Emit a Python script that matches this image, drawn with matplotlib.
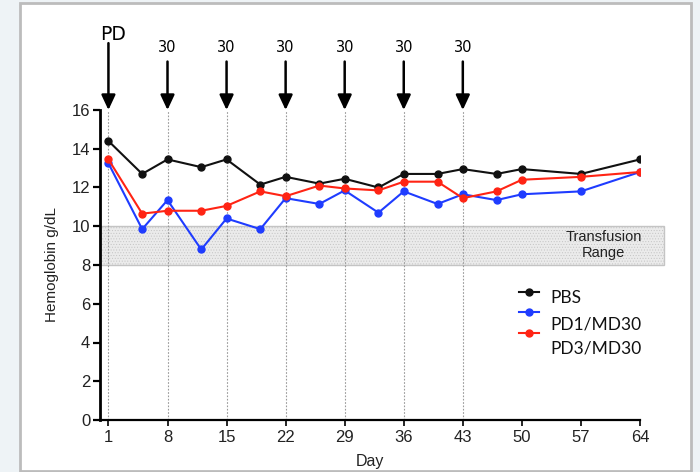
import matplotlib
matplotlib.use("Agg")
import matplotlib.pyplot as plt
from matplotlib.patches import Rectangle
from matplotlib.lines import Line2D

# Sampling days and hemoglobin readings (g/dL)
days = [1, 5, 8, 12, 15, 19, 22, 26, 29, 33, 36, 40, 43, 47, 50, 57, 64]
pbs = [14.4, 12.7, 13.45, 13.05, 13.45, 12.15, 12.55, 12.2, 12.45, 12.0,
       12.7, 12.7, 12.95, 12.7, 12.95, 12.7, 13.45]
pd1_md30 = [13.25, 9.85, 11.35, 8.8, 10.4, 9.85, 11.45, 11.15, 11.85, 10.7,
            11.8, 11.15, 11.65, 11.35, 11.65, 11.8, 12.8]
pd3_md30 = [13.45, 10.65, 10.8, 10.8, 11.05, 11.8, 11.55, 12.1, 11.95, 11.85,
            12.3, 12.3, 11.45, 11.8, 12.4, 12.55, 12.8]

series_names = ["PBS", "PD1/MD30", "PD3/MD30"]
series_colors = ["#111111", "#1f3cff", "#ff2414"]

# Dosing schedule
dose_days = [1, 8, 15, 22, 29, 36, 43]
dose_labels = ["PD", "30", "30", "30", "30", "30", "30"]

x_ticks = [1, 8, 15, 22, 29, 36, 43, 50, 57, 64]
y_ticks = [0, 2, 4, 6, 8, 10, 12, 14, 16]
transfusion_low, transfusion_high = 8, 10

W, H = 700, 472
fig = plt.figure(figsize=(W / 100, H / 100), dpi=100, facecolor="#eef3f6")

# white panel with grey border
panel = Rectangle((20 / W, 1 - 471 / H), 671 / W, 468 / H, transform=fig.transFigure,
                  facecolor="white", edgecolor="#bcbcbc", linewidth=2, zorder=-5)
fig.patches.append(panel)

ax = fig.add_axes([100 / W, 1 - 420 / H, 540 / W, 310 / H])
ax.set_facecolor("none")
ax.set_xlim(0, 64)
ax.set_ylim(0, 16)

tick_font = {"family": "Liberation Sans", "size": 12}

# transfusion band
band = Rectangle((0, transfusion_low), 66.8, transfusion_high - transfusion_low,
                 facecolor="#ebebeb", edgecolor="#c4c4c4", hatch="......",
                 linewidth=1.0, clip_on=False, zorder=1)
band.set_hatch_linewidth(0.4)
ax.add_patch(band)
ax.text(59.7, 9.45, "Transfusion", ha="center", va="center",
        fontfamily="Liberation Sans", fontsize=10.5, color="#222222", zorder=2)
ax.text(59.7, 8.6, "Range", ha="center", va="center",
        fontfamily="Liberation Sans", fontsize=10.5, color="#222222", zorder=2)

# dosing markers
for d, lab in zip(dose_days, dose_labels):
    ax.axvline(d, ymin=0, ymax=1, color="#9a9a9a", linestyle=(0, (1.5, 1.5)),
               linewidth=0.8, zorder=1)
    if lab == "PD":
        y_start, y_text, fs = 19.45, 19.9, 13.5
    else:
        y_start, y_text, fs = 18.5, 19.2, 10.5
    ax.annotate("", xy=(d, 16), xytext=(d, y_start), annotation_clip=False,
                arrowprops=dict(arrowstyle="-|>,head_length=0.9,head_width=0.42",
                                mutation_scale=10, lw=1.8, color="black",
                                shrinkA=0, shrinkB=0))
    ax.text(d + (0.5 if lab == "PD" else 0), y_text, lab, ha="center", va="center",
            fontfamily="DejaVu Sans", fontsize=fs, color="black", clip_on=False)

# data series
for vals, col in zip([pbs, pd1_md30, pd3_md30], series_colors):
    ax.plot(days, vals, color=col, linewidth=1.5, marker="o", markersize=5,
            zorder=3)

ax.spines["top"].set_visible(False)
ax.spines["right"].set_visible(False)
ax.spines["left"].set_linewidth(2)
ax.spines["bottom"].set_linewidth(1.6)
ax.set_xticks(x_ticks)
ax.set_yticks(y_ticks)
ax.set_xticklabels([str(v) for v in x_ticks], fontdict=tick_font, color="#222222")
ax.set_yticklabels([str(v) for v in y_ticks], fontdict=tick_font, color="#222222")
ax.tick_params(axis="y", direction="out", length=5, width=1.6, pad=2)
ax.tick_params(axis="x", direction="out", length=4, width=1.2, pad=3)

ax.set_xlabel("Day", fontfamily="Liberation Sans", fontsize=11.5, color="#222222",
              labelpad=7)
ax.set_ylabel("Hemoglobin g/dL", fontfamily="Liberation Sans", fontsize=11,
              color="#222222", labelpad=9)

# legend drawn by hand: markers and labels sit on slightly different rows
marker_rows = [292, 312, 333]
text_rows = [298, 324, 349]
for name, col, my, ty in zip(series_names, series_colors, marker_rows, text_rows):
    fig.add_artist(Line2D([519 / W, 539 / W], [1 - my / H, 1 - my / H],
                          transform=fig.transFigure, color=col, linewidth=1.5,
                          zorder=5))
    fig.add_artist(Line2D([529 / W], [1 - my / H], transform=fig.transFigure,
                          color=col, marker="o", markersize=5, linestyle="none",
                          zorder=5))
    fig.text(550 / W, 1 - ty / H, name, ha="left", va="center",
             fontfamily="Lato", fontsize=12.5, color="#111111")

fig.savefig("out.png", dpi=100, facecolor=fig.get_facecolor())
